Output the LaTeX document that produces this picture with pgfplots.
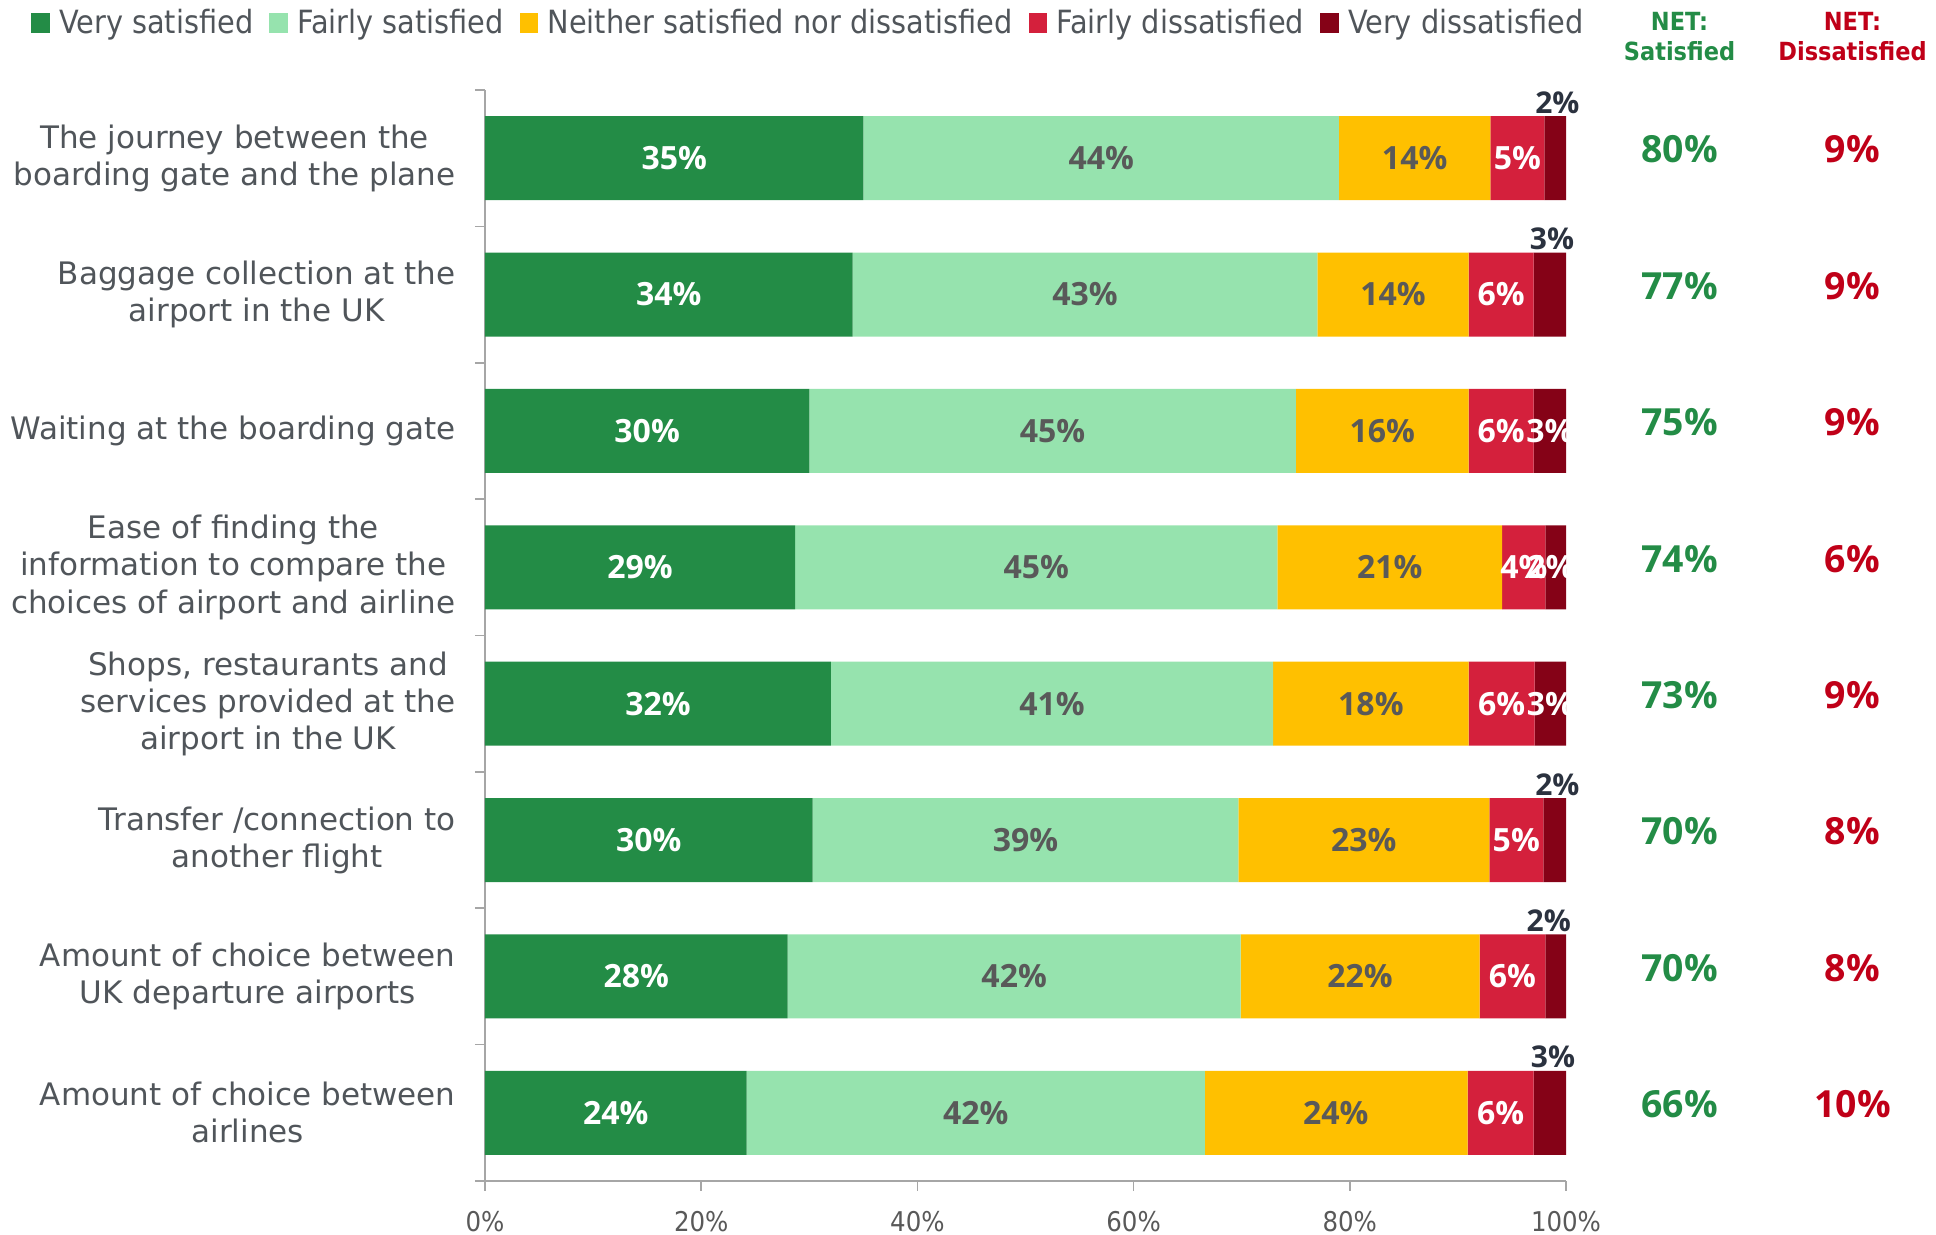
\documentclass[border=0pt]{standalone}
\usepackage{fontspec}
\setmainfont{DejaVu Sans}
\newfontfamily\condfont{DejaVu Sans Condensed}
\newfontfamily\lblfont{Open Sans}
\newcommand\lblb{\lblfont\bfseries}
\usepackage{pgfplots}
\pgfplotsset{compat=1.18}
\usepackage{pgfplotstable}

\definecolor{vsat}{HTML}{238C46}
\definecolor{fsat}{HTML}{96E3AE}
\definecolor{neit}{HTML}{FFC000}
\definecolor{fdis}{HTML}{D4203C}
\definecolor{vdis}{HTML}{850217}
\definecolor{txtgray}{HTML}{50555A}
\definecolor{lblgray}{HTML}{595959}
\definecolor{navy}{HTML}{2B323F}
\definecolor{netred}{HTML}{C00018}
\definecolor{axgray}{HTML}{A6A6A6}

% segment widths (normalised to 100)
\pgfplotstableread{
y vs fs ne fd vd
7 35 44 14 5 2
6 34 43 14 6 3
5 30 45 16 6 3
4 28.7 44.6 20.8 4.0 1.9
3 32 40.9 18.1 6.1 2.9
2 30.3 39.4 23.2 5.0 2.1
1 28 41.9 22.1 6.1 1.9
0 24.2 42.4 24.3 6.1 3.0
}\bars

% label positions (segment centres) and rounded labels
\pgfplotstableread{
y cvs lvs cfs lfs cne lne cfd lfd
7 17.5 35 57.0 44 86.0 14 95.5 5
6 17.0 34 55.5 43 84.0 14 94.0 6
5 15.0 30 52.5 45 83.0 16 94.0 6
4 14.35 29 51.0 45 83.7 21 96.1 4
3 16.0 32 52.45 41 81.95 18 94.05 6
2 15.15 30 50.0 39 81.3 23 95.4 5
1 14.0 28 48.95 42 80.95 22 95.05 6
0 12.1 24 45.4 42 78.7 24 93.95 6
}\labs

% very dissatisfied labels inside the bar
\pgfplotstableread{
y x lab
5 98.5 3
4 98.6 2
3 98.55 3
}\vdin

% very dissatisfied labels above the bar
\pgfplotstableread{
y x lab
7.33 99.2 2
6.33 98.7 3
2.33 99.2 2
1.33 98.4 2
0.33 98.8 3
}\vdout

% NET columns
\pgfplotstableread{
y sat dis
7.063 80 9
6.063 77 9
5.063 75 9
4.063 74 6
3.063 73 9
2.063 70 8
1.063 70 8
0.063 66 10
}\net

\begin{document}
\begin{tikzpicture}
\begin{axis}[
  scale only axis, width=540.5pt, height=545.5pt,
  xbar stacked, bar width=42pt,
  xmin=0, xmax=100, ymin=-0.5, ymax=7.5,
  axis x line*=bottom, axis y line*=left,
  axis line style={axgray, line width=0.8pt},
  tick style={axgray, line width=0.8pt},
  tick align=outside,
  major tick length=0pt, minor tick length=5pt,
  xtick={0,20,...,100},
  minor xtick={0,20,...,100},
  xticklabels={0\%,20\%,40\%,60\%,80\%,100\%},
  xticklabel style={anchor=center, yshift=-20.5pt, font=\condfont\fontsize{13.6}{15}\selectfont, text=lblgray},
  ytick={0,...,7},
  minor ytick={-0.5,0.5,...,7.5},
  yticklabels={
    {Amount of choice between\\airlines},
    {Amount of choice between\\UK departure airports},
    {Transfer /connection to\\another flight},
    {Shops, restaurants and\\services provided at the\\airport in the UK},
    {Ease of finding the\\information to compare the\\choices of airport and airline},
    {Waiting at the boarding gate},
    {Baggage collection at the\\airport in the UK},
    {The journey between the\\boarding gate and the plane}},
  yticklabel style={align=center, anchor=east, inner sep=0pt, xshift=-14.5pt,
    font=\fontsize{15.5}{18.6}\selectfont, text=txtgray},
  legend columns=5,
  legend style={at={(-0.42,1.0614)}, anchor=west, draw=none, fill=none, inner sep=0pt,
    font=\condfont\fontsize{16}{17}\selectfont, text=txtgray,
    /tikz/every even column/.append style={column sep=6pt}},
  legend image code/.code={\fill[#1] (0pt,-5.2pt) rectangle (9.3pt,5.2pt); \path (12pt,0pt);},
]
\addplot[fill=vsat, draw=none] table[x=vs, y=y]{\bars};
\addlegendentry{Very satisfied}
\addplot[fill=fsat, draw=none] table[x=fs, y=y]{\bars};
\addlegendentry{Fairly satisfied}
\addplot[fill=neit, draw=none] table[x=ne, y=y]{\bars};
\addlegendentry{Neither satisfied nor dissatisfied}
\addplot[fill=fdis, draw=none] table[x=fd, y=y]{\bars};
\addlegendentry{Fairly dissatisfied}
\addplot[fill=vdis, draw=none] table[x=vd, y=y]{\bars};
\addlegendentry{Very dissatisfied}
\end{axis}

\begin{axis}[
  scale only axis, width=540.5pt, height=545.5pt,
  xmin=0, xmax=100, ymin=-0.5, ymax=7.5,
  hide axis, clip=false,
  point meta=explicit symbolic,
  nodes near coords={\pgfplotspointmeta\%},
]
\addplot[draw=none, every node near coord/.append style={anchor=center, inner sep=0pt, text=white, font=\lblb\fontsize{16}{16}\selectfont}]
  table[x=cvs, y=y, meta=lvs]{\labs};
\addplot[draw=none, every node near coord/.append style={anchor=center, inner sep=0pt, text=lblgray, font=\lblb\fontsize{16}{16}\selectfont}]
  table[x=cfs, y=y, meta=lfs]{\labs};
\addplot[draw=none, every node near coord/.append style={anchor=center, inner sep=0pt, text=lblgray, font=\lblb\fontsize{16}{16}\selectfont}]
  table[x=cne, y=y, meta=lne]{\labs};
\addplot[draw=none, every node near coord/.append style={anchor=center, inner sep=0pt, text=white, font=\lblb\fontsize{16}{16}\selectfont}]
  table[x=cfd, y=y, meta=lfd]{\labs};
\addplot[draw=none, every node near coord/.append style={anchor=center, inner sep=0pt, text=white, font=\lblb\fontsize{16}{16}\selectfont}]
  table[x=x, y=y, meta=lab]{\vdin};
\addplot[draw=none, every node near coord/.append style={anchor=base, inner sep=0pt, text=navy, font=\lblb\fontsize{15}{15}\selectfont}]
  table[x=x, y=y, meta=lab]{\vdout};
\addplot[draw=none, every node near coord/.append style={anchor=center, inner sep=0pt, text=vsat, font=\lblb\fontsize{18.7}{19}\selectfont}]
  table[x expr=110.5, y=y, meta=sat]{\net};
\addplot[draw=none, every node near coord/.append style={anchor=center, inner sep=0pt, text=netred, font=\lblb\fontsize{18.7}{19}\selectfont}]
  table[x expr=126.5, y=y, meta=dis]{\net};
\node[align=center, text=vsat, font=\condfont\bfseries\fontsize{12.5}{15}\selectfont, yshift=26.5pt] at (axis cs:110.5,7.5) {NET:\\Satisfied};
\node[align=center, text=netred, font=\condfont\bfseries\fontsize{12.5}{15}\selectfont, yshift=26.5pt] at (axis cs:126.5,7.5) {NET:\\Dissatisfied};
\end{axis}
\pgfresetboundingbox
\path[use as bounding box] (-242.5pt,-27pt) rectangle (725.5pt,590.5pt);
\end{tikzpicture}
\end{document}
